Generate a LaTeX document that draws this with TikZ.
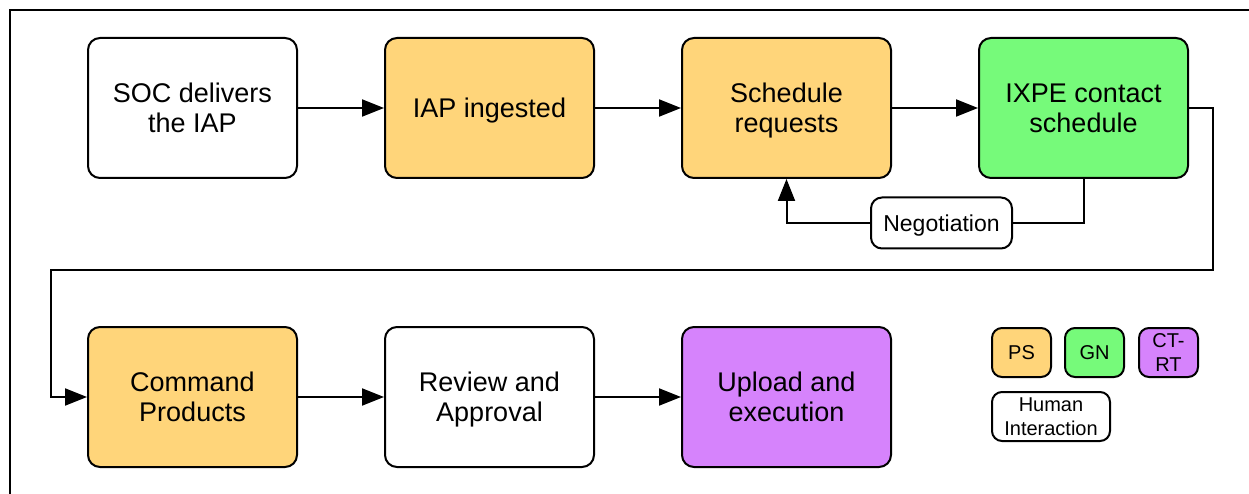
\documentclass[tikz,border=0pt]{standalone}
\usepackage{fontspec}
\setmainfont{Liberation Sans}
\usetikzlibrary{arrows.meta,positioning}
\definecolor{cPS}{HTML}{FFD57A}
\definecolor{cGN}{HTML}{76FA7A}
\definecolor{cCT}{HTML}{D683FC}
\tikzset{
  box/.style  ={draw=black,fill=white,rounded corners=12pt,line width=2pt,align=center,
                minimum width=209pt,minimum height=140pt,inner sep=4pt,text depth=0pt,
                font=\fontsize{27}{30}\selectfont},
  ps/.style   ={box,fill=cPS},
  gn/.style   ={box,fill=cGN},
  ct/.style   ={box,fill=cCT},
  key/.style  ={draw=black,fill=white,line width=2pt,rounded corners=10pt,align=center,
                minimum width=59pt,minimum height=49pt,inner sep=1pt,
                font=\fontsize{20}{24}\selectfont},
  flow/.style ={line width=2pt,-{Triangle[length=22pt,width=17pt]}},
  wire/.style ={line width=2pt},
}

\begin{document}
\begin{tikzpicture}[x=1pt,y=1pt]
\useasboundingbox (0,0) rectangle (1249,-494);

% open frame, top and left only
\draw[wire] (1249,-10) -- (10,-10) -- (10,-494);

% upper row
\node[box] (soc)   at (192.5,-108)  {SOC delivers\\the IAP};
\node[ps]  (iap)   at (489.5,-108)  {IAP ingested};
\node[ps]  (sched) at (786.5,-108)  {Schedule\\requests};
\node[gn]  (ixpe)  at (1083.5,-108) {IXPE contact\\schedule};
\draw[flow] (soc.east) -- (iap.west);
\draw[flow] (iap.east) -- (sched.west);
\draw[flow] (sched.east) -- (ixpe.west);

% negotiation loop back into the requests
\node[box,minimum width=141pt,minimum height=51pt,rounded corners=11pt,
      font=\fontsize{23}{26}\selectfont] (nego) at (941.5,-223) {Negotiation};
\draw[wire] (ixpe.south) |- (nego.east);
\draw[flow] (nego.west) -| (sched.south);

% lower row
\node[ps]  (cmd)    at (192.5,-397) {Command\\Products};
\node[box] (review) at (489.5,-397) {Review and\\Approval};
\node[ct]  (upload) at (786.5,-397) {Upload and\\execution};
\draw[flow] (cmd.east) -- (review.west);
\draw[flow] (review.east) -- (upload.west);

% wrap from the schedule down to the products
\coordinate (wrapR) at (1213,-270);
\coordinate (wrapL) at (51,-270);
\draw[flow] (ixpe.east) -| (wrapR) -- (wrapL) |- (cmd.west);

% legend
\node[key,fill=cPS] (lgPS) at (1021.5,-352.5) {PS};
\node[key,fill=cGN] (lgGN) at (1094.5,-352.5) {GN};
\node[key,fill=cCT] (lgCT) at (1168.5,-352.5) {CT-\\RT};
\node[key,minimum width=118pt] (lgHI) at (1051,-416.5) {Human\\Interaction};
\end{tikzpicture}
\end{document}
